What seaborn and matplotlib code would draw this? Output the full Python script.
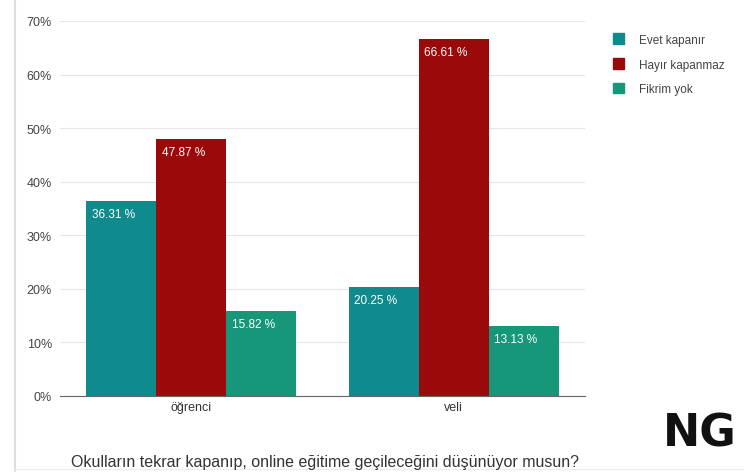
import pandas as pd
import seaborn as sns
import matplotlib.pyplot as plt
from matplotlib.patches import Patch

# veriler
gruplar = ["öğrenci", "veli"]
cevaplar = ["Evet kapanır", "Hayır kapanmaz", "Fikrim yok"]
evet = [36.31, 20.25]
hayir = [47.87, 66.61]
fikrim_yok = [15.82, 13.13]
renkler = ["#0f8b8d", "#9b0a0a", "#16977a"]

df = pd.DataFrame({
    "grup": gruplar * 3,
    "cevap": [cevaplar[0]] * 2 + [cevaplar[1]] * 2 + [cevaplar[2]] * 2,
    "oran": evet + hayir + fikrim_yok,
})

sns.set_style("white")
plt.rcParams["font.family"] = ["Liberation Sans", "DejaVu Sans"]

fig = plt.figure(figsize=(7.44, 4.77), dpi=100)
ax = fig.add_axes([0.081, 0.168, 0.705, 0.786])

sns.barplot(data=df, x="grup", y="oran", hue="cevap", hue_order=cevaplar,
            palette=renkler, saturation=1, width=0.8, linewidth=0, ax=ax, legend=False)

# bar etiketleri
for cont in ax.containers:
    for bar in cont:
        h = bar.get_height()
        ax.text(bar.get_x() + 0.02, h - 1.3, f"{h:.2f} %",
                color="white", fontsize=8.5, ha="left", va="top")

ax.set_ylim(0, 70)
ax.set_xlim(-0.5, 1.5)
ax.set_yticks(range(0, 71, 10))
ax.set_yticklabels([f"{v}%" for v in range(0, 71, 10)], fontsize=9, color="#444444")
ax.tick_params(axis="x", labelsize=9, colors="#333333", length=0)
ax.tick_params(axis="y", length=0, pad=6)
ax.yaxis.grid(True, color="#e6e6e6", linewidth=0.8)
ax.set_axisbelow(True)
ax.set_xlabel("")
ax.set_ylabel("")
for s in ["top", "right", "left"]:
    ax.spines[s].set_visible(False)
ax.spines["bottom"].set_color("#666666")
ax.spines["bottom"].set_position(("data", 0))

# açıklama
handles = [Patch(facecolor=c, edgecolor=c) for c in renkler]
fig.legend(handles, cevaplar, loc="upper left", bbox_to_anchor=(0.81, 0.95),
           frameon=False, fontsize=8.5, handlelength=0.9, handleheight=1.0,
           labelspacing=1.05, handletextpad=1.3, labelcolor="#444444")

fig.text(0.437, 0.03, "Okulların tekrar kapanıp, online eğitime geçileceğini düşünüyor musun?",
         ha="center", va="center", fontsize=11.5, color="#333333")

# NG logosu
fig.text(0.94, 0.09, "NG", fontsize=32, fontweight="bold", color="#111111",
         ha="center", va="center", family=["DejaVu Sans"])

# çerçeve çizgileri
fig.add_artist(plt.Line2D([0.02, 0.02], [0.01, 1.0], color="#dddddd", lw=1.5))
fig.add_artist(plt.Line2D([0.02, 1.0], [0.015, 0.015], color="#eeeeee", lw=1))

fig.savefig("out.png", dpi=100)
